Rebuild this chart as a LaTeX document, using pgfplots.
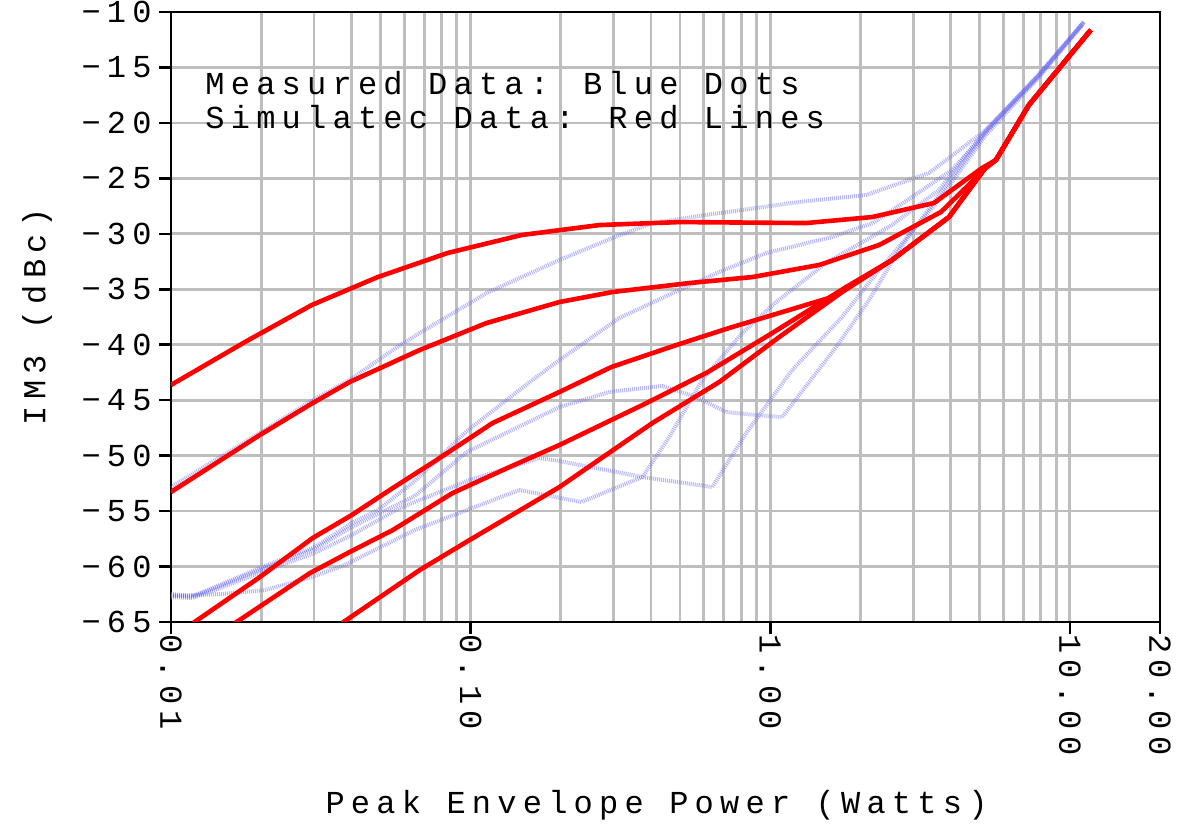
\documentclass[border=0pt]{standalone}
\usepackage{pgfplots}
\pgfplotsset{compat=1.18}
\usepackage{fontspec}
\setmainfont{Liberation Mono}[LetterSpace=19.5]
\definecolor{redline}{RGB}{255,0,0}
\definecolor{blueline}{RGB}{105,105,240}
\definecolor{gridgray}{RGB}{190,190,190}
\newcommand{\bigfont}{\fontsize{16}{19}\selectfont}
\begin{document}
\begin{tikzpicture}
\path[use as bounding box] (-85.5pt,-105.5pt) rectangle (506pt,311pt);
\begin{axis}[
  at={(0,0)}, anchor=south west,
  scale only axis, width=494.5pt, height=305pt,
  xmode=log, log basis x=10,
  xmin=0.01, xmax=20, ymin=-65, ymax=-10,
  xtick={0.01,0.1,1,10}, xticklabels={0.01,0.10,1.00,10.00},
  extra x ticks={20}, extra x tick labels={20.00},
  extra x tick style={grid=none},
  minor xtick={0.02,0.03,0.04,0.05,0.06,0.07,0.08,0.09,0.2,0.3,0.4,0.5,0.6,0.7,0.8,0.9,2,3,4,5,6,7,8,9},
  ytick={-65,-60,-55,-50,-45,-40,-35,-30,-25,-20,-15,-10},
  yticklabels={−65,−60,−55,−50,−45,−40,−35,−30,−25,−20,−15,−10},
  grid=both,
  major grid style={gridgray, line width=1.4pt},
  minor grid style={gridgray, line width=1.4pt},
  axis line style={black, line width=1.3pt},
  tick style={black, line width=1.3pt},
  major tick length=6pt, minor tick length=0pt,
  tick align=outside, tick pos=left,
  tick label style={font=\bigfont, inner sep=0pt},
  xticklabel style={rotate=-90, anchor=west},
  yticklabel style={anchor=east, xshift=-3.5pt},
  label style={font=\bigfont},
  xlabel={Peak Envelope Power (Watts)},
  xlabel style={at={(axis description cs:0.491,-0.3)}, anchor=center},
  ylabel={IM3 (dBc)},
  ylabel style={at={(axis description cs:-0.1355,0.5)}, anchor=center},
  clip=true,
]
% measured (blue dotted)
\addplot[blueline, line width=2pt, opacity=0.5, dash pattern=on 0.5pt off 0.5pt] coordinates {
(0.01,-52.83) (0.0198,-47.96) (0.0297,-44.99) (0.0395,-43.18) (0.055,-40.48) (0.0676,-38.95) (0.1131,-35.34) (0.198,-32.36) (0.2973,-30.38) (0.4043,-29.03) (0.6118,-28.30) (1.249,-27.13) (2.089,-26.50) (3.388,-24.52) (5.248,-20.64) (7.882,-15.68) (11.14,-10.90)};
\addplot[blueline, line width=2pt, opacity=0.5, dash pattern=on 0.5pt off 0.5pt] coordinates {
(0.01,-62.57) (0.0118,-62.75) (0.0140,-61.85) (0.0201,-60.05) (0.0302,-58.24) (0.0401,-56.08) (0.049,-54.91) (0.0651,-52.3) (0.097,-47.8) (0.1318,-44.99) (0.1609,-43.18) (0.198,-41.38) (0.3139,-37.59) (0.4972,-35.07) (0.6761,-33.44) (0.9698,-31.73) (1.609,-30.29) (2.2,-29.03) (2.973,-26.68) (4.043,-24.25) (5.248,-20.8) (7.882,-15.8) (11.0,-11.1)};
\addplot[blueline, line width=2pt, opacity=0.5, dash pattern=on 0.5pt off 0.5pt] coordinates {
(0.01,-62.48) (0.01175,-62.66) (0.01401,-61.94) (0.0201,-60.23) (0.0302,-58.42) (0.0401,-56.44) (0.0651,-53.64) (0.097,-49.68) (0.198,-45.62) (0.2905,-44.26) (0.4365,-43.72) (0.5666,-44.72) (0.7132,-46.07) (0.898,-46.34) (1.0965,-46.52) (1.66,-40.21) (2.138,-35.97) (2.692,-31.46) (3.657,-26.50) (5.248,-20.82) (7.882,-15.6) (11.1,-10.95)};
\addplot[blueline, line width=2pt, opacity=0.5, dash pattern=on 0.5pt off 0.5pt] coordinates {
(0.01,-62.75) (0.01175,-62.84) (0.01401,-62.12) (0.0201,-60.50) (0.0302,-58.78) (0.0401,-57.16) (0.058,-54.72) (0.0992,-52.20) (0.1698,-50.22) (0.198,-50.49) (0.3745,-51.93) (0.6406,-52.83) (0.8318,-47.96) (1.184,-42.28) (1.738,-37.50) (2.309,-33.26) (3.657,-26.95) (5.248,-21.09) (7.882,-15.9) (11.0,-11.2)};
\addplot[blueline, line width=2pt, opacity=0.5, dash pattern=on 0.5pt off 0.5pt] coordinates {
(0.01,-62.66) (0.01479,-62.48) (0.0206,-62.12) (0.0295,-60.95) (0.038,-59.86) (0.0651,-56.71) (0.097,-54.91) (0.1457,-53.10) (0.2344,-54.18) (0.3745,-51.93) (0.4606,-48.32) (0.5934,-43.18) (0.8065,-38.95) (1.0471,-36.15) (1.537,-32.63) (2.551,-29.21) (3.657,-26.05) (5.248,-20.64) (7.882,-15.7) (11.2,-10.85)};
% simulated (red lines)
\addplot[redline, line width=2.3pt, line join=round] coordinates {
(0.01,-43.63) (0.01765,-39.76) (0.0295,-36.42) (0.0490,-33.90) (0.0838,-31.73) (0.1479,-30.11) (0.2692,-29.21) (0.50,-28.94) (1.318,-29.03) (2.188,-28.49) (3.522,-27.22) (5.09,-24.07) (5.666,-23.35) (7.30,-18.39) (11.75,-11.62)};
\addplot[redline, line width=2.3pt, line join=round] coordinates {
(0.01,-53.28) (0.0198,-48.14) (0.0297,-45.26) (0.0395,-43.36) (0.0676,-40.48) (0.1131,-38.04) (0.198,-36.15) (0.2973,-35.25) (0.537,-34.44) (0.871,-33.90) (1.457,-32.81) (2.309,-31.01) (3.715,-28.03) (5.248,-24.07) (5.666,-23.35) (7.30,-18.39) (11.75,-11.62)};
\addplot[redline, line width=2.3pt, line join=round] coordinates {
(0.01184,-65.1) (0.0198,-60.95) (0.0297,-57.43) (0.0401,-55.36) (0.055,-52.92) (0.077,-50.40) (0.1184,-47.06) (0.198,-44.26) (0.2951,-42.01) (0.486,-40.03) (0.7298,-38.49) (1.157,-36.87) (1.609,-35.70) (2.551,-32.36) (3.951,-28.49) (5.248,-23.98) (5.666,-23.35) (7.30,-18.39) (11.75,-11.62)};
\addplot[redline, line width=2.3pt, line join=round] coordinates {
(0.01634,-65.1) (0.0291,-60.59) (0.0395,-58.69) (0.055,-56.71) (0.0871,-53.37) (0.1349,-51.03) (0.198,-49.04) (0.3745,-45.44) (0.6118,-42.55) (1.0155,-38.95) (1.792,-34.80) (2.551,-32.36) (3.951,-28.49) (5.248,-23.98) (5.666,-23.35) (7.30,-18.39) (11.75,-11.62)};
\addplot[redline, line width=2.3pt, line join=round] coordinates {
(0.0372,-65.1) (0.0676,-60.32) (0.0992,-57.61) (0.198,-52.83) (0.4043,-47.06) (0.6761,-43.36) (1.0715,-39.31) (1.738,-35.25) (2.551,-32.36) (3.951,-28.49) (5.248,-23.98) (5.666,-23.35) (7.30,-18.39) (11.75,-11.62)};
\node[anchor=west, inner sep=0pt, font=\bigfont] at (rel axis cs:0.0344,0.8836) {Measured Data: Blue Dots};
\node[anchor=west, inner sep=0pt, font=\bigfont] at (rel axis cs:0.0344,0.828) {Simulatec Data: Red Lines};
\end{axis}
\end{tikzpicture}
\end{document}
